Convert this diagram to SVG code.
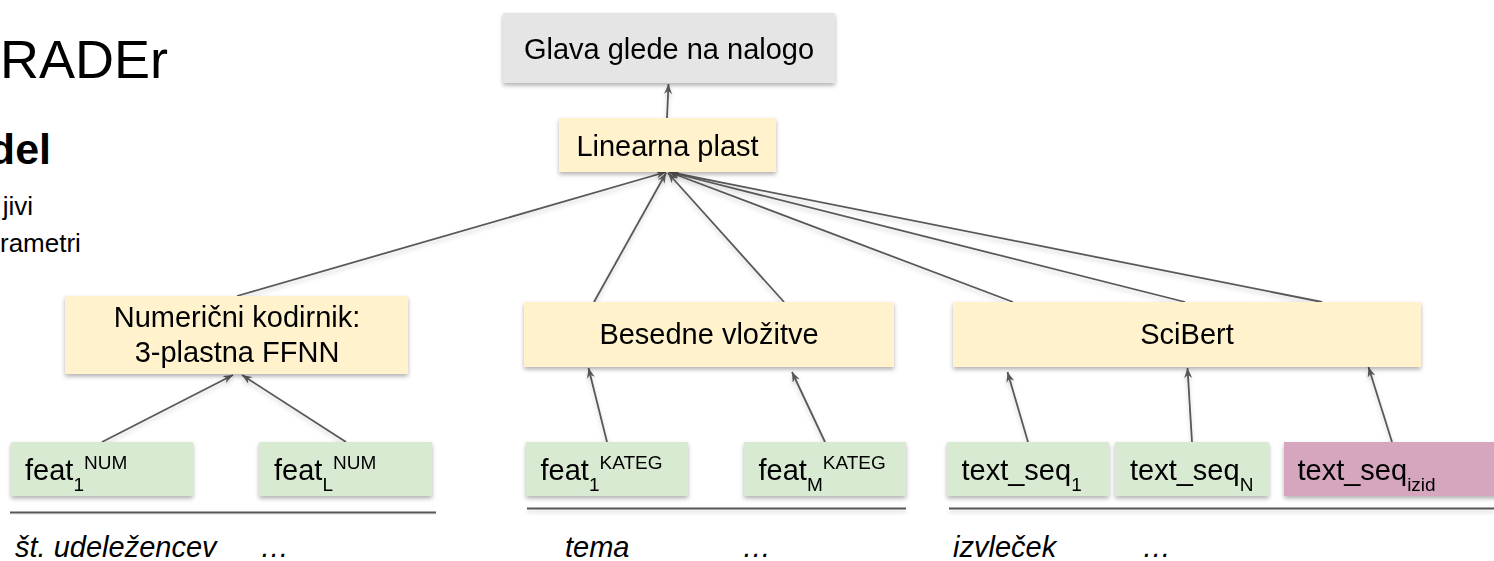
<svg xmlns="http://www.w3.org/2000/svg" width="1494" height="561" viewBox="0 0 1494 561">
<style>
text{font-family:"Liberation Sans",Arial,sans-serif;fill:#000}
.t{font-size:29px}
.c{text-anchor:middle}
.s{font-size:19px}
.lbl{font-size:29px;font-style:italic}
.gray{fill:#e5e5e5}
.yel{fill:#fff2cc}
.grn{fill:#d9ead3}
.pink{fill:#d5a6bd}
.con line{stroke:#595959;stroke-width:1.8;fill:none;marker-end:url(#ah)}
.sep{stroke:#595959;stroke-width:2}
</style>
<defs>
<filter id="sh" x="-10%" y="-20%" width="120%" height="160%">
<feDropShadow dx="0" dy="2.5" stdDeviation="2" flood-color="#000" flood-opacity="0.3"/>
</filter>
<filter id="lsh" x="-5%" y="-50%" width="110%" height="200%">
<feDropShadow dx="0" dy="3" stdDeviation="2" flood-color="#000" flood-opacity="0.18"/>
</filter>
<marker id="ah" viewBox="0 0 10 8" refX="10" refY="4" markerWidth="10" markerHeight="8" markerUnits="userSpaceOnUse" orient="auto">
<path d="M0,0 L10,4 L0,8 L3,4 Z" fill="#595959"/>
</marker>
</defs>
<rect width="1494" height="561" fill="#fff"/>

<g id="slide-text">
<text x="0" y="78" style="font-size:54px">RADEr</text>
<text x="51" y="164" style="font-size:43px;font-weight:bold;text-anchor:end">del</text>
<text x="33" y="215" style="font-size:26px;text-anchor:end">jivi</text>
<text x="0" y="252" style="font-size:26px">rametri</text>
</g>

<g id="connectors" class="con" filter="url(#lsh)">
<line x1="667" y1="118" x2="668.5" y2="84"/>
<line x1="237" y1="296" x2="666" y2="172"/>
<line x1="594" y1="302" x2="666" y2="173"/>
<line x1="784" y1="302" x2="668" y2="173"/>
<line x1="1013" y1="302" x2="669" y2="172"/>
<line x1="1185" y1="302" x2="669" y2="172"/>
<line x1="1322" y1="302" x2="669" y2="172"/>
<line x1="102" y1="442" x2="233" y2="375"/>
<line x1="346" y1="442" x2="242" y2="375"/>
<line x1="607" y1="442" x2="588.5" y2="368"/>
<line x1="825" y1="442" x2="792" y2="372"/>
<line x1="1028" y1="442" x2="1007.5" y2="372"/>
<line x1="1192" y1="442" x2="1187.5" y2="368"/>
<line x1="1392" y1="442" x2="1368.5" y2="367"/>
</g>

<g id="glava" filter="url(#sh)">
<rect class="gray" x="503" y="13" width="332" height="70"/>
<text class="t c" x="669" y="58.5">Glava glede na nalogo</text>
</g>
<g id="linearna" filter="url(#sh)">
<rect class="yel" x="559" y="118" width="217" height="54"/>
<text class="t c" x="667.5" y="155.5">Linearna plast</text>
</g>
<g id="numericni" filter="url(#sh)">
<rect class="yel" x="65" y="296" width="343" height="78"/>
<text class="t c" x="237" y="326.5">Numerični kodirnik:</text>
<text class="t c" x="237" y="362">3-plastna FFNN</text>
</g>
<g id="besedne" filter="url(#sh)">
<rect class="yel" x="524" y="302" width="370" height="65"/>
<text class="t c" x="709" y="344">Besedne vložitve</text>
</g>
<g id="scibert" filter="url(#sh)">
<rect class="yel" x="953" y="302" width="468" height="65"/>
<text class="t c" x="1187" y="344">SciBert</text>
</g>

<g id="feat1num" filter="url(#sh)">
<rect class="grn" x="11" y="442" width="182" height="54"/>
<text class="t" x="25" y="480">feat<tspan class="s" dy="10.7">1</tspan><tspan class="s" dy="-21.4">NUM</tspan></text>
</g>
<g id="featLnum" filter="url(#sh)">
<rect class="grn" x="259" y="442" width="173" height="54"/>
<text class="t" x="274" y="480">feat<tspan class="s" dy="10.7">L</tspan><tspan class="s" dy="-21.4">NUM</tspan></text>
</g>
<g id="feat1kateg" filter="url(#sh)">
<rect class="grn" x="526" y="442" width="162" height="54"/>
<text class="t" x="540.5" y="480">feat<tspan class="s" dy="10.7">1</tspan><tspan class="s" dy="-21.4">KATEG</tspan></text>
</g>
<g id="featMkateg" filter="url(#sh)">
<rect class="grn" x="744" y="442" width="162" height="54"/>
<text class="t" x="758.5" y="480">feat<tspan class="s" dy="10.7">M</tspan><tspan class="s" dy="-21.4">KATEG</tspan></text>
</g>
<g id="textseq1" filter="url(#sh)">
<rect class="grn" x="947" y="442" width="162" height="54"/>
<text class="t" x="961.5" y="480">text_seq<tspan class="s" dy="10.7">1</tspan></text>
</g>
<g id="textseqN" filter="url(#sh)">
<rect class="grn" x="1115" y="442" width="154" height="54"/>
<text class="t" x="1130" y="480">text_seq<tspan class="s" dy="10.7">N</tspan></text>
</g>
<g id="textseqizid" filter="url(#sh)">
<rect class="pink" x="1284" y="442" width="215" height="54"/>
<text class="t" x="1297.5" y="480">text_seq<tspan class="s" dy="10.7">izid</tspan></text>
</g>

<g id="separators" filter="url(#lsh)">
<line class="sep" x1="10" y1="512.5" x2="436" y2="512.5"/>
<line class="sep" x1="527" y1="508.5" x2="906" y2="508.5"/>
<line class="sep" x1="949" y1="508.5" x2="1494" y2="508.5"/>
</g>

<g id="labels">
<text class="lbl" x="15" y="557">št. udeležencev</text>
<text class="lbl" x="260" y="557">…</text>
<text class="lbl" x="565" y="557">tema</text>
<text class="lbl" x="742" y="557">…</text>
<text class="lbl" x="953" y="557">izvleček</text>
<text class="lbl" x="1142" y="557">…</text>
</g>
</svg>
